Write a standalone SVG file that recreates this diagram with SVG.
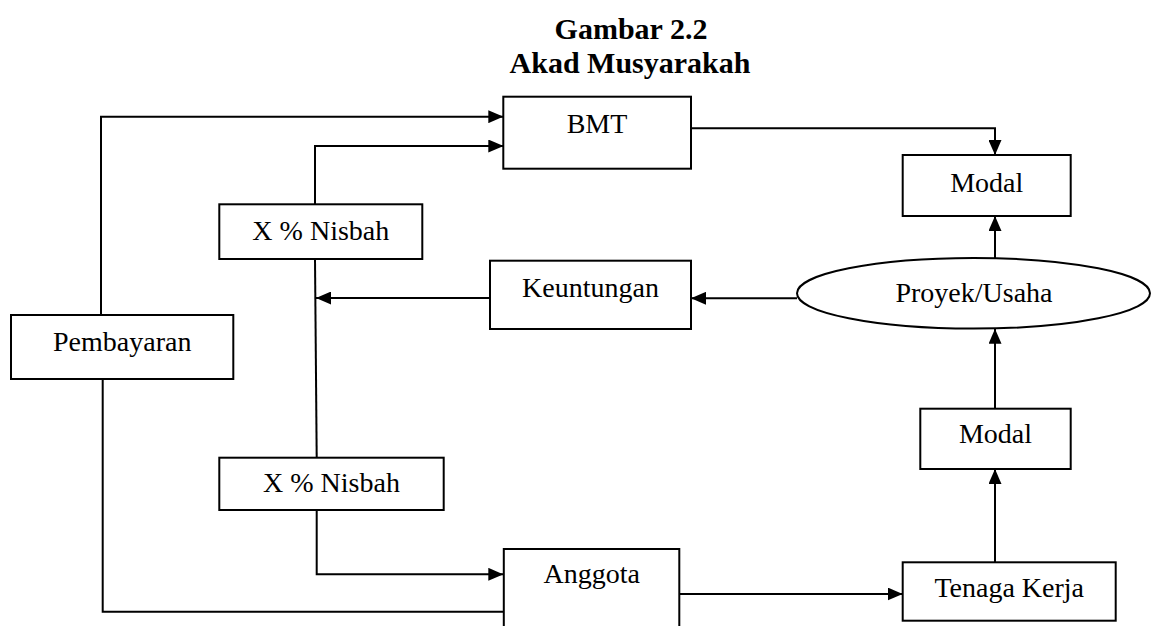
<svg xmlns="http://www.w3.org/2000/svg" width="1151" height="626" viewBox="0 0 1151 626">
  <style>
    .box { fill: #ffffff; stroke: #000000; stroke-width: 2; }
    .lbl { font-family: "Liberation Serif", "Times New Roman", serif; font-size: 28px; fill: #000000; text-anchor: middle; }
    .ttl { font-family: "Liberation Serif", "Times New Roman", serif; font-size: 30px; font-weight: bold; fill: #000000; text-anchor: middle; }
    .wire { fill: none; stroke: #000000; stroke-width: 2; }
    .arr { marker-end: url(#head); }
  </style>
  <defs>
    <marker id="head" markerUnits="userSpaceOnUse" markerWidth="15" markerHeight="13" refX="15" refY="6.5" orient="auto">
      <path d="M0,0 L15,6.5 L0,13 Z" fill="#000000"/>
    </marker>
  </defs>
  <rect width="1151" height="626" fill="#ffffff"/>

  <!-- title -->
  <g id="title">
    <text class="ttl" x="631" y="38.5">Gambar 2.2</text>
    <text class="ttl" x="630" y="72.5">Akad Musyarakah</text>
  </g>

  <!-- connectors -->
  <g id="connectors">
    <path class="wire arr" d="M101,315 V116.7 H503.3"/>
    <path class="wire arr" d="M315,204.3 V146 H503.3"/>
    <path class="wire arr" d="M691,128.3 H995 V155"/>
    <path class="wire arr" d="M995,258.5 V216"/>
    <path class="wire arr" d="M797,298.3 H691"/>
    <path class="wire arr" d="M490,298 H316"/>
    <path class="wire" d="M315,259 L316.7,457.7"/>
    <path class="wire arr" d="M316.7,510 V574.3 H503.3"/>
    <path class="wire" d="M102.7,379 V611.7 H503.3"/>
    <path class="wire arr" d="M679.3,594 H902.7"/>
    <path class="wire arr" d="M995,562.3 V469"/>
    <path class="wire arr" d="M995,408.7 V328.8"/>
  </g>

  <!-- nodes -->
  <g id="bmt">
    <rect class="box" x="503.3" y="96.7" width="187.7" height="72"/>
    <text class="lbl" x="597" y="133">BMT</text>
  </g>
  <g id="modal-top">
    <rect class="box" x="902.7" y="155" width="168" height="61"/>
    <text class="lbl" x="986.7" y="191.7">Modal</text>
  </g>
  <g id="nisbah-top">
    <rect class="box" x="219.3" y="204.3" width="203" height="54.7"/>
    <text class="lbl" x="320.8" y="240">X % Nisbah</text>
  </g>
  <g id="keuntungan">
    <rect class="box" x="490" y="260.7" width="201" height="68.3"/>
    <text class="lbl" x="590.5" y="296.7">Keuntungan</text>
  </g>
  <g id="proyek">
    <ellipse class="box" cx="973.5" cy="293.3" rx="176.5" ry="35.3"/>
    <text class="lbl" x="974" y="302.3">Proyek/Usaha</text>
  </g>
  <g id="pembayaran">
    <rect class="box" x="11" y="315" width="222.3" height="64"/>
    <text class="lbl" x="122.2" y="350.7">Pembayaran</text>
  </g>
  <g id="modal-bottom">
    <rect class="box" x="920.3" y="408.7" width="150.4" height="60.3"/>
    <text class="lbl" x="995.5" y="443.3">Modal</text>
  </g>
  <g id="nisbah-bottom">
    <rect class="box" x="219.3" y="457.7" width="224.4" height="52.3"/>
    <text class="lbl" x="331.5" y="491.7">X % Nisbah</text>
  </g>
  <g id="anggota">
    <rect class="box" x="503.8" y="549" width="175.5" height="100"/>
    <text class="lbl" x="591.7" y="583.3">Anggota</text>
  </g>
  <g id="tenaga-kerja">
    <rect class="box" x="902.7" y="562.3" width="213" height="58.4"/>
    <text class="lbl" x="1009.2" y="596.7">Tenaga Kerja</text>
  </g>
</svg>
